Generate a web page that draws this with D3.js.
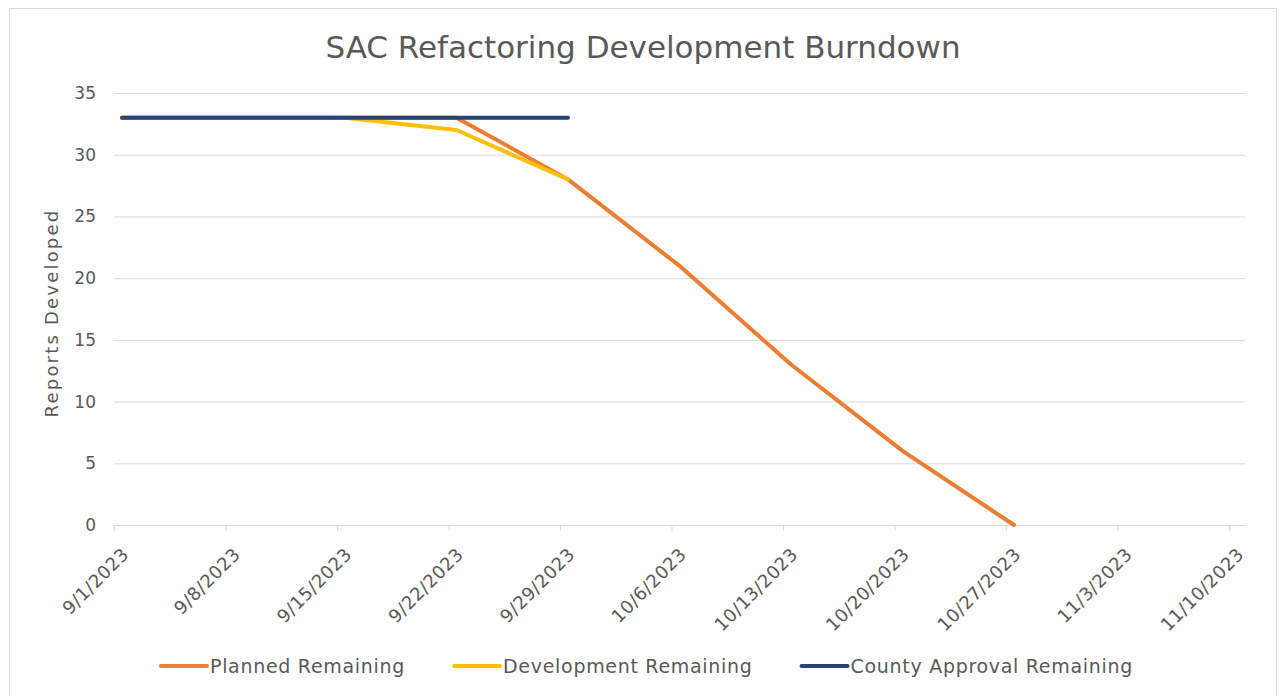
<!DOCTYPE html>
<html>
<head>
<meta charset="utf-8">
<script src="https://cdn.jsdelivr.net/npm/d3@7"></script>
<style>
  body { margin: 0; background: #fff; }
  svg text { font-family: "DejaVu Sans", sans-serif; fill: #595959; }
</style>
</head>
<body>
<svg id="chart" width="1280" height="696"></svg>
<script>
// weekly dates of the burndown
var dates = ['2023-09-01', '2023-09-08', '2023-09-15', '2023-09-22', '2023-09-29',
             '2023-10-06', '2023-10-13', '2023-10-20', '2023-10-27'];
var planned     = [33, 33, 33, 33, 28, 21, 13, 6, 0];
var development = [33, 33, 33, 32, 28];
var county      = [33, 33, 33, 33, 33];

var tickDates = ['2023-09-01', '2023-09-08', '2023-09-15', '2023-09-22', '2023-09-29',
                 '2023-10-06', '2023-10-13', '2023-10-20', '2023-10-27', '2023-11-03', '2023-11-10'];
var yTicks = [0, 5, 10, 15, 20, 25, 30, 35];

var seriesNames  = ['Planned Remaining', 'Development Remaining', 'County Approval Remaining'];
var seriesColors = ['#ED7D31', '#FFC000', '#264478'];

var parse = d3.timeParse('%Y-%m-%d');
var fmt = d3.timeFormat('%-m/%-d/%Y');

var svg = d3.select('#chart');

// chart border
svg.append('rect')
  .attr('x', 9.5).attr('y', 8.5)
  .attr('width', 1267).attr('height', 720)
  .attr('fill', '#fff')
  .attr('stroke', '#D9D9D9');

var x = d3.scaleTime()
  .domain([parse('2023-09-01'), parse('2023-11-11')])
  .range([114, 1245]);

var y = d3.scaleLinear()
  .domain([0, 35])
  .range([525, 93]);

// title
svg.append('text')
  .attr('x', 643).attr('y', 58)
  .attr('text-anchor', 'middle')
  .style('font-size', '31px')
  .text('SAC Refactoring Development Burndown');

// gridlines + y labels
var yAxis = svg.append('g')
  .attr('transform', 'translate(114,0)')
  .call(d3.axisLeft(y).tickValues(yTicks).tickSize(-(1245 - 114)).tickPadding(18));
yAxis.select('.domain').remove();
yAxis.selectAll('line').attr('stroke', '#D9D9D9');
yAxis.selectAll('text').style('font-size', '17px').attr('fill', '#595959');

// x axis
var xAxis = svg.append('g')
  .attr('transform', 'translate(0,525)')
  .call(d3.axisBottom(x)
    .tickValues(tickDates.map(parse))
    .tickFormat(fmt)
    .tickSize(6)
    .tickSizeOuter(0));
xAxis.select('.domain').attr('stroke', '#D9D9D9');
xAxis.selectAll('line').attr('stroke', '#D9D9D9');
xAxis.selectAll('text')
  .style('font-size', '18px')
  .style('letter-spacing', '0.5px')
  .attr('fill', '#595959')
  .attr('text-anchor', 'end')
  .attr('y', 0).attr('dy', '0.35em')
  .attr('transform', 'translate(11,26) rotate(-45)');

// y title
svg.append('text')
  .attr('transform', 'translate(58,313) rotate(-90)')
  .attr('text-anchor', 'middle')
  .style('font-size', '18px')
  .style('letter-spacing', '2.2px')
  .text('Reports Developed');

// lines, points sit in the middle of the day like Excel does
var line = d3.line()
  .x(function(d, i) { return x(d3.timeHour.offset(parse(dates[i]), 12)); })
  .y(function(d) { return y(d); });

[planned, development, county].forEach(function(vals, i) {
  svg.append('path')
    .datum(vals)
    .attr('fill', 'none')
    .attr('stroke', seriesColors[i])
    .attr('stroke-width', 4)
    .attr('stroke-linecap', 'round')
    .attr('stroke-linejoin', 'round')
    .attr('d', line);
});

// legend
var legend = svg.append('g');
var lx = 0;
seriesNames.forEach(function(name, i) {
  var g = legend.append('g');
  g.append('line')
    .attr('x1', 0).attr('x2', 46)
    .attr('stroke', seriesColors[i])
    .attr('stroke-width', 4)
    .attr('stroke-linecap', 'round');
  var t = g.append('text')
    .attr('x', 49).attr('dy', '0.35em')
    .style('font-size', '19px')
    .style('letter-spacing', '0.7px')
    .text(name);
  var w = 49 + t.node().getComputedTextLength();
  g.attr('transform', 'translate(' + lx + ',0)');
  lx += w + 49;
});
legend.attr('transform', 'translate(' + (647 - (lx - 49) / 2) + ',666)');
</script>
</body>
</html>
